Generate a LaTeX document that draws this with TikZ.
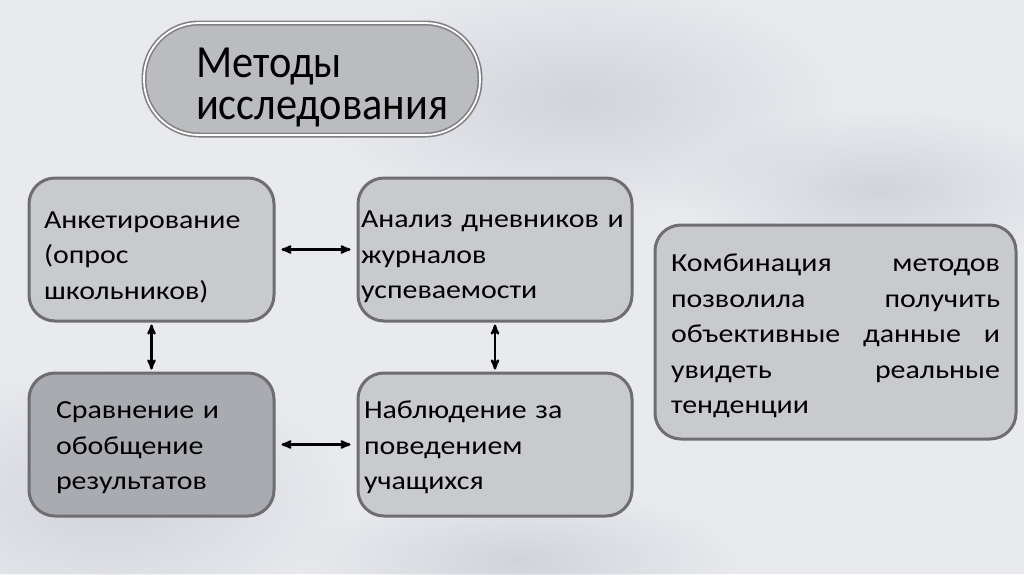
\documentclass[tikz,border=0pt]{standalone}
\usepackage{fontspec}
\setmainfont{Carlito}
\newfontfamily\boxfont[FakeStretch=1.15]{Carlito}
\newfontfamily\titlefont[FakeStretch=0.92]{Carlito}
\usetikzlibrary{positioning,arrows,shapes.misc,fadings}

\definecolor{paper}{HTML}{E9EAEE}
\definecolor{cloud}{HTML}{BFC2CB}
\definecolor{boxfill}{HTML}{C9CACE}
\definecolor{boxdark}{HTML}{A9ABB0}
\definecolor{boxline}{HTML}{6E6E70}
\definecolor{titlefill}{HTML}{BBBCC0}

\newcommand\padtop[1]{\rule{0pt}{#1}}
\tikzfading[name=fuzzyblob,inner color=transparent!45,outer color=transparent!100]

\tikzset{
  methodbox/.style={draw=boxline,line width=3pt,rounded corners=26pt,fill=boxfill,
    minimum width=245pt,minimum height=143pt,align=left,inner xsep=15pt,
    font=\boxfont\fontsize{26}{35.5}\selectfont},
  titlebox/.style={draw=gray,line width=1.6pt,double=white,double distance=1.8pt,
    rounded corners=55pt,fill=titlefill,minimum width=336pt,minimum height=112pt,
    align=left,text width=232pt,font=\titlefont\fontsize{46}{42}\selectfont},
  link/.style={<->,>=stealth',line width=2.3pt,black},
  blob/.style={fill=cloud,path fading=fuzzyblob}
}

\begin{document}
\begin{tikzpicture}[x=1pt,y=-1pt]

\useasboundingbox (0,0) rectangle (1024,574);
% watercolour paper
\fill[paper] (0,0) rectangle (1024,574);
\fill[blob] (580,100) ellipse (260 and 120);
\fill[blob] (110,500) ellipse (240 and 130);
\fill[blob] (880,190) ellipse (200 and 80);
\fill[blob] (520,560) ellipse (220 and 70);

\node (title) [titlebox] at (312,79) {\padtop{46pt}Методы\\исследования};

\node (survey)  [methodbox,text width=215pt] at (151.5,249.5)
  {\padtop{32pt}Анкетирование\\(опрос\\школьников)};
\node (diaries) [methodbox,minimum width=274pt,inner xsep=3pt,text width=268pt] at (495,249.5)
  {\padtop{32pt}Анализ дневников и\\журналов\\успеваемости};
\node (compare) [methodbox,fill=boxdark,inner xsep=27pt,text width=191pt] at (151.5,444.5)
  {\padtop{24pt}Сравнение и\\обобщение\\результатов};
\node (observe) [methodbox,minimum width=274pt,inner xsep=6pt,text width=262pt] at (495,444.5)
  {\padtop{24pt}Наблюдение за\\поведением\\учащихся};

\node (combo) [methodbox,minimum width=361pt,minimum height=214pt,inner xsep=16pt,
  text width=329pt] at (835.5,332)
  {\padtop{26pt}Комбинация\hfill методов\\позволила\hfill получить\\
   объективные\hfill данные\hfill и\\увидеть\hfill реальные\\тенденции};

\path [link,shorten >=6pt,shorten <=6pt]
  (survey)  edge (diaries)
  (compare) edge (observe);
\path [link,shorten >=2pt,shorten <=2pt]
  (survey)  edge (compare)
  (diaries) edge (observe);

\end{tikzpicture}
\end{document}
